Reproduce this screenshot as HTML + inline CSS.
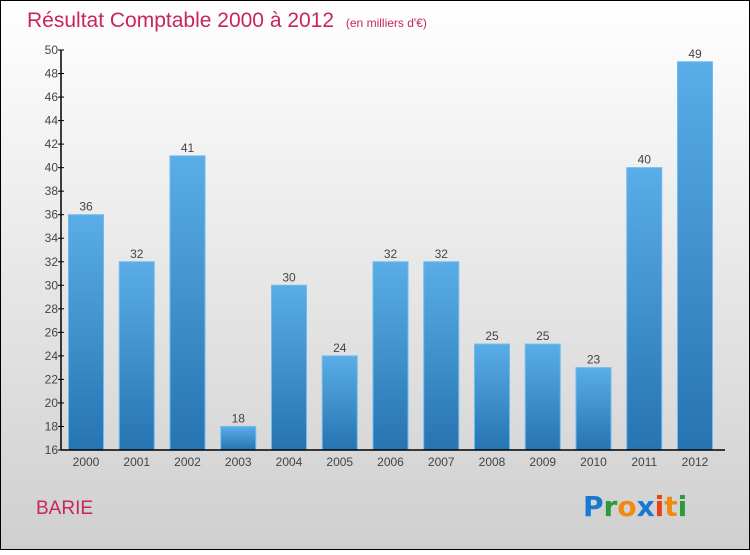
<!DOCTYPE html>
<html><head><meta charset="utf-8"><style>
body{margin:0}
#c{width:750px;height:550px;position:relative;font-family:"Liberation Sans",sans-serif}
</style></head><body>
<div id="c">
<svg id="s" width="750" height="550" xmlns="http://www.w3.org/2000/svg">
<defs>
<linearGradient id="bg" x1="0" y1="0" x2="0" y2="1"><stop offset="0" stop-color="#ffffff"/><stop offset="1" stop-color="#cfcfcf"/></linearGradient>
<linearGradient id="bar" x1="0" y1="0" x2="0" y2="1"><stop offset="0" stop-color="#5aade6"/><stop offset="1" stop-color="#2674b2"/></linearGradient>
</defs>
<rect x="0.5" y="0.5" width="749" height="549" fill="url(#bg)" stroke="#000"/>
<text x="27" y="27" font-size="21" fill="#c8265a">Résultat Comptable 2000 à 2012 <tspan font-size="12" dx="6">(en milliers d'€)</tspan></text>
<text x="36" y="514" font-size="19" fill="#c8265a">BARIE</text>
<g font-size="28" font-family="'DejaVu Sans',sans-serif" font-weight="bold">
<text x="583" y="516"><tspan fill="#1a78d0">P</tspan><tspan fill="#2a9a3a">r</tspan><tspan fill="#f08a10">o</tspan><tspan fill="#1a78d0">x</tspan><tspan fill="#e84010">i</tspan><tspan fill="#f08a10">t</tspan><tspan fill="#2a9a3a">i</tspan></text>
</g>
<g id="plot"></g>
</svg>
</div>
<script>
const years=["2000","2001","2002","2003","2004","2005","2006","2007","2008","2009","2010","2011","2012"];
const values=[36,32,41,18,30,24,32,32,25,25,23,40,49];
const yTicks=[16,18,20,22,24,26,28,30,32,34,36,38,40,42,44,46,48,50];
const NS="http://www.w3.org/2000/svg";
const g=document.getElementById('plot');
const x0=61,x1=725,yTop=50,yBot=450,vMin=16,vMax=50;
const y=v=>yBot-(v-vMin)/(vMax-vMin)*(yBot-yTop);
const step=50.75,first=86,bw=35;
const xc=i=>first+i*step;
function mk(t,a){const e=document.createElementNS(NS,t);for(const k in a)e.setAttribute(k,a[k]);g.appendChild(e);return e;}
values.forEach((v,i)=>{
 const r=mk('rect',{x:xc(i)-bw/2,y:y(v),width:bw,height:yBot-y(v),fill:'url(#bar)',stroke:'#6cbcf0','stroke-width':1});
 
 
 const t=mk('text',{x:xc(i),y:y(v)-4,'font-size':12,fill:'#444','text-anchor':'middle'});
 t.textContent=v;
 
 
 const xl=mk('text',{x:xc(i),y:yBot+16,'font-size':12,fill:'#444','text-anchor':'middle'});
 xl.textContent=years[i];
 
 
});
yTicks.forEach(v=>{
 const l=mk('line',{x1:x0-3,x2:x0+3,y1:y(v),y2:y(v),stroke:'#000'});
 
 
 const t=mk('text',{x:x0-3,y:y(v)+4,'font-size':12,fill:'#444','text-anchor':'end'});
 t.textContent=v;
 
 
});
const ya=mk('line',{x1:x0,x2:x0,y1:yTop,y2:yBot,stroke:'#000','stroke-width':1.5});


const xa=mk('line',{x1:x0,x2:x1,y1:yBot,y2:yBot,stroke:'#000','stroke-width':1.5});


</script>
</body></html>
